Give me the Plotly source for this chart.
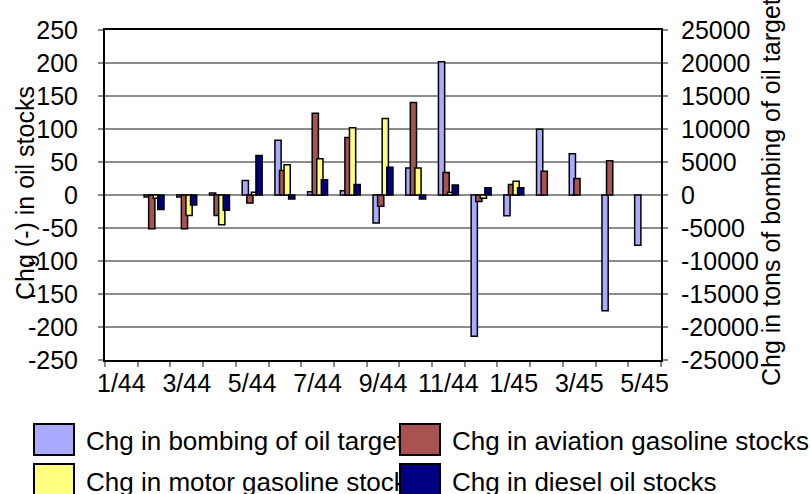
import plotly.graph_objects as go

# ---------------- data ----------------
months = ["1/44", "2/44", "3/44", "4/44", "5/44", "6/44", "7/44", "8/44", "9/44",
          "10/44", "11/44", "12/44", "1/45", "2/45", "3/45", "4/45", "5/45"]
tick_labels = ["1/44", "3/44", "5/44", "7/44", "9/44", "11/44", "1/45", "3/45", "5/45"]

series_names = ["Chg in bombing of oil targets",
                "Chg in aviation gasoline stocks",
                "Chg in motor gasoline stocks",
                "Chg in diesel oil stocks"]

bombing = [None, -300, -300, 300, 2200, 8300, 500, 650, -4250, 4100,
           20200, -21400, -3150, 9950, 6250, -17550, -7600]
aviation = [None, -51, -51, -31, -12, 37, 124, 87, -17, 140,
            34, -10, 16, 36, 25, 52, None]
motor = [None, -5, -31, -45, 4, 46, 55, 102, 116, 41,
         4, -5, 21, None, None, None, None]
diesel = [None, -22, -15, -23, 60, -6, 23, 16, 42, -6,
          15, 11, 11, None, None, None, None]

left_ticks = list(range(-250, 251, 50))
right_ticks = list(range(-25000, 25001, 5000))

left_title = "Chg (-) in oil stocks"
right_title = "Chg in tons of bombing of oil targets"

# ---------------- style ----------------
colors = ["#AAAAFF", "#A85252", "#FFFF80", "#000080"]
offsets = [-0.305, -0.165, -0.025, 0.115]
bar_w = 0.19
FONT = "Liberation Sans, Arial, sans-serif"
FS = 25
LFS = 26

W, H = 810, 494
ML, MR, MT, MB = 105, 149, 30, 134
PW, PH = W - ML - MR, H - MT - MB


def px_x(px):
    return (px - ML) / PW


def px_y(py):
    return (H - MB - py) / PH


fig = go.Figure()

# bombing on the main (right-hand) axis, drawn first
fig.add_trace(go.Bar(x=months, y=bombing, name=series_names[0], yaxis="y",
                     offset=offsets[0], width=bar_w, showlegend=False,
                     marker=dict(color=colors[0], line=dict(color="black", width=1.5))))
for vals, nm, col, off in zip([aviation, motor, diesel], series_names[1:], colors[1:], offsets[1:]):
    fig.add_trace(go.Bar(x=months, y=vals, name=nm, yaxis="y2",
                         offset=off, width=bar_w, showlegend=False,
                         marker=dict(color=col, line=dict(color="black", width=1.5))))

ticktext = [m if m in tick_labels else "" for m in months]

fig.update_layout(
    width=W, height=H,
    margin=dict(l=ML, r=MR, t=MT, b=MB, autoexpand=False),
    paper_bgcolor="white", plot_bgcolor="white",
    barmode="overlay",
    font=dict(family=FONT, size=FS, color="black"),
    xaxis=dict(type="category", anchor="y", automargin=False,
               tickmode="array", tickvals=months, ticktext=ticktext, tickangle=0,
               tickson="boundaries", ticks="outside", ticklen=5, tickwidth=2,
               tickcolor="#888888", showgrid=False,
               showline=True, linecolor="black", linewidth=2, mirror=True,
               tickfont=dict(size=FS), range=[-0.5, len(months) - 0.5]),
    xaxis2=dict(overlaying="x", anchor="y", side="bottom", automargin=False,
                range=[-0.5, len(months) - 0.5],
                tickmode="array", tickvals=[i + 0.5 for i in range(len(months) - 1)],
                ticks="inside", ticklen=5, tickwidth=2, tickcolor="#888888",
                showticklabels=False, showline=False, showgrid=False, zeroline=False),
    yaxis=dict(side="right", automargin=False,
               range=[right_ticks[0], right_ticks[-1]],
               tickmode="array", tickvals=right_ticks,
               ticktext=[str(v) for v in right_ticks],
               ticks="outside", ticklen=5, tickwidth=2, tickcolor="#888888",
               showline=True, linecolor="black", linewidth=2,
               showgrid=True, gridcolor="#8C8C8C", gridwidth=2, zeroline=False,
               ticklabelstandoff=8, tickfont=dict(size=FS)),
    yaxis2=dict(side="left", overlaying="y", anchor="x", automargin=False,
                range=[left_ticks[0], left_ticks[-1]],
                tickmode="array", tickvals=left_ticks,
                ticktext=[str(v) for v in left_ticks],
                ticks="outside", ticklen=5, tickwidth=2, tickcolor="#888888",
                showline=True, linecolor="black", linewidth=2,
                showgrid=False, zeroline=False,
                ticklabelstandoff=15, tickfont=dict(size=FS)),
)

annotations = []
# axis titles
annotations.append(dict(text=left_title, xref="paper", yref="paper",
                        x=px_x(25), y=px_y(193), textangle=-90, showarrow=False,
                        xanchor="center", yanchor="middle", font=dict(size=FS)))
annotations.append(dict(text=right_title, xref="paper", yref="paper",
                        x=px_x(771), y=px_y(186), textangle=-90, showarrow=False,
                        xanchor="center", yanchor="middle", font=dict(size=FS)))

# legend: swatch then text, row by row, so each right-column swatch
# is drawn over the end of the left-column text (as in the reference)
swatch_cx = [54, 420]
text_x = [84, 450]
row_cy = [439.5, 479.5]
text_cy = [441, 482]
for row in range(2):
    for col in range(2):
        k = row * 2 + col
        annotations.append(dict(text=" ", xref="paper", yref="paper",
                                x=px_x(swatch_cx[col]), y=px_y(row_cy[row]),
                                xanchor="center", yanchor="middle", showarrow=False,
                                width=38, height=29, bgcolor=colors[k],
                                bordercolor="black", borderwidth=2, borderpad=0,
                                font=dict(size=4)))
        annotations.append(dict(text=series_names[k], xref="paper", yref="paper",
                                x=px_x(text_x[col]), y=px_y(text_cy[row]),
                                xanchor="left", yanchor="middle", showarrow=False,
                                font=dict(size=LFS)))

fig.update_layout(annotations=annotations)

fig.write_html("out.html",
               config={"displayModeBar": False},
               post_script="document.body.style.margin='0px';"
                           "document.body.style.overflow='hidden';")
